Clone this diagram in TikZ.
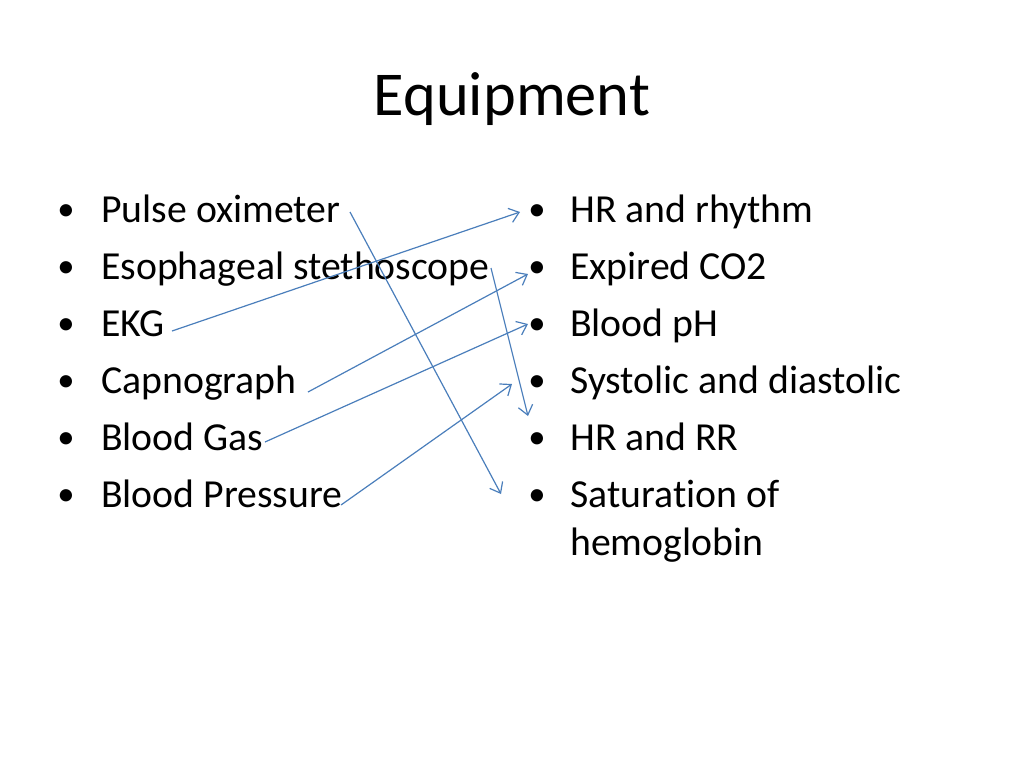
\documentclass[tikz,border=0pt]{standalone}
\usepackage{fontspec}
\setmainfont{Carlito}[Ligatures={NoCommon}]
\usetikzlibrary{arrows.meta}
\definecolor{arrowblue}{HTML}{4A7EBB}
\tikzset{
  item/.style={anchor=base west, inner sep=0pt, font=\fontsize{29.8pt}{36pt}\selectfont},
  dot/.style={anchor=base, inner sep=0pt, font=\fontsize{26pt}{30pt}\selectfont},
  link/.style={draw=arrowblue, line width=0.9pt, -{Straight Barb[length=7pt,width=11pt]}},
}
\begin{document}
\begin{tikzpicture}[x=0.75pt,y=-0.75pt]
\useasboundingbox (0,0) rectangle (1024,768);
\node[anchor=base, inner sep=0pt, font=\fontsize{46.8pt}{56pt}\selectfont] (title) at (512,115) {Equipment};
% left column
\foreach \y/\n in {220/l1,277/l2,334/l3,391/l4,448/l5,505/l6}{
  \node[dot] (b\n) at (66,\y) {•};
}
\node[item] (l1) at (101,222) {Pulse oximeter};
\node[item] (l2) at (101,279) {Esophageal stethoscope};
\node[item] (l3) at (101,336) {EKG};
\node[item] (l4) at (101,393) {Capnograph};
\node[item] (l5) at (101,450) {Blood Gas};
\node[item] (l6) at (101,507) {Blood Pressure};
% right column
\foreach \y/\n in {220/r1,277/r2,334/r3,391/r4,448/r5,505/r6}{
  \node[dot] (b\n) at (537,\y) {•};
}
\node[item] (r1) at (570,222) {HR and rhythm};
\node[item] (r2) at (570,279) {Expired CO2};
\node[item] (r3) at (570,336) {Blood pH};
\node[item] (r4) at (570,393) {Systolic and diastolic};
\node[item] (r5) at (570,450) {HR and RR};
\node[item] (r6a) at (570,507) {Saturation of};
\node[item] (r6b) at (570,555) {hemoglobin};
% connector end points
\coordinate (s1) at (350,212); \coordinate (e1) at (501,494);
\coordinate (s2) at (491,268); \coordinate (e2) at (528,416);
\coordinate (s3) at (172,331); \coordinate (e3) at (520,212);
\coordinate (s4) at (308,392); \coordinate (e4) at (528,274);
\coordinate (s5) at (265,442); \coordinate (e5) at (528,324);
\coordinate (s6) at (341,505); \coordinate (e6) at (512,384);
\foreach \i in {1,...,6}{ \draw[link] (s\i) -- (e\i); }
\end{tikzpicture}
\end{document}
